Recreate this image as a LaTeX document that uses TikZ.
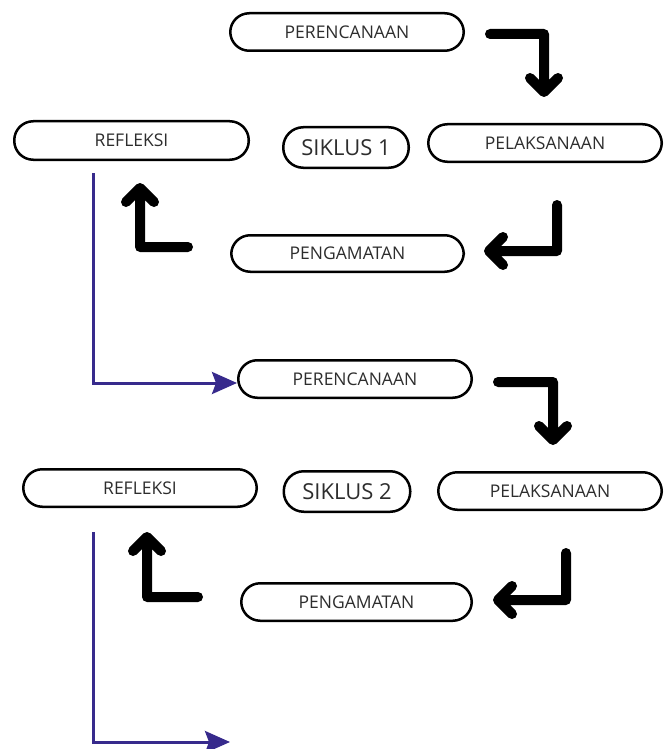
\documentclass[tikz,border=0pt]{standalone}
\usepackage{fontspec}
\setmainfont{Open Sans}
\usetikzlibrary{arrows.meta}
\definecolor{pline}{RGB}{55,42,140}
\definecolor{txt}{RGB}{45,45,45}
\tikzset{
  pill/.style={draw=black, line width=2.5pt, rounded corners=19pt, fill=white,
    inner sep=0pt, text=txt, font=\fontsize{17.5}{20}\selectfont},
  cyc/.style={pill, rounded corners=20pt, font=\fontsize{22}{26}\selectfont},
  fat/.style={line width=10pt, line cap=round, line join=round, black},
  flow/.style={draw=pline, line width=3pt, -{Stealth[length=25pt,width=22pt,inset=4pt]}}
}
\begin{document}
\begin{tikzpicture}[x=1pt,y=-1pt]
\useasboundingbox (0,0) rectangle (664,749);
% Cycle 1
\node[pill, minimum width=233.5pt, minimum height=37.5pt] (per1) at (347,32) {PERENCANAAN};
\node[pill, minimum width=234.5pt, minimum height=38.5pt] (ref1) at (131.5,140.5) {REFLEKSI};
\node[cyc, minimum width=125.5pt, minimum height=40.5pt] (sik1) at (346,147.5) {SIKLUS 1};
\node[pill, minimum width=233.5pt, minimum height=37.5pt] (pel1) at (545,143) {PELAKSANAAN};
\node[pill, minimum width=232.5pt, minimum height=36.5pt] (pen1) at (347.5,253.5) {PENGAMATAN};
% Cycle 2
\node[pill, minimum width=233.5pt, minimum height=37.5pt] (per2) at (355,379) {PERENCANAAN};
\node[pill, minimum width=233.5pt, minimum height=37.5pt] (ref2) at (140,488) {REFLEKSI};
\node[cyc, minimum width=126.5pt, minimum height=40.5pt] (sik2) at (347,491.5) {SIKLUS 2};
\node[pill, minimum width=223.5pt, minimum height=37.5pt] (pel2) at (550,491) {PELAKSANAAN};
\node[pill, minimum width=230.5pt, minimum height=37.5pt] (pen2) at (356.5,602) {PENGAMATAN};

% fat arrows, cycle 1
\coordinate (a1s) at (490,34); \coordinate (a1c) at (544,34); \coordinate (a1t) at (544,92);
\draw[fat] (a1s) -- (a1c) -- (a1t) ++(-14,-14) -- (a1t) -- ++(14,-14);
\coordinate (a2s) at (557,205); \coordinate (a2c) at (557,251); \coordinate (a2t) at (489,251);
\draw[fat] (a2s) -- (a2c) -- (a2t) ++(14,-14) -- (a2t) -- ++(14,14);
\coordinate (a3s) at (188,247); \coordinate (a3c) at (140,247); \coordinate (a3t) at (140,188);
\draw[fat] (a3s) -- (a3c) -- (a3t) ++(-14,14) -- (a3t) -- ++(14,14);
% fat arrows, cycle 2
\coordinate (a4s) at (498,382); \coordinate (a4c) at (553,382); \coordinate (a4t) at (553,440);
\draw[fat] (a4s) -- (a4c) -- (a4t) ++(-14,-14) -- (a4t) -- ++(14,-14);
\coordinate (a5s) at (566,553); \coordinate (a5c) at (566,600); \coordinate (a5t) at (498,600);
\draw[fat] (a5s) -- (a5c) -- (a5t) ++(14,-14) -- (a5t) -- ++(14,14);
\coordinate (a6s) at (198,597); \coordinate (a6c) at (147,597); \coordinate (a6t) at (147,537);
\draw[fat] (a6s) -- (a6c) -- (a6t) ++(-14,14) -- (a6t) -- ++(14,14);

% purple flow lines
\coordinate (p1s) at (93,173); \coordinate (p1c) at (93,383);
\draw[flow] (p1s) -- (p1c) -- (per2.west |- p1c);
\coordinate (p2s) at (93,532); \coordinate (p2c) at (93,742); \coordinate (p2e) at (230,742);
\draw[flow] (p2s) -- (p2c) -- (p2e);
\end{tikzpicture}
\end{document}
